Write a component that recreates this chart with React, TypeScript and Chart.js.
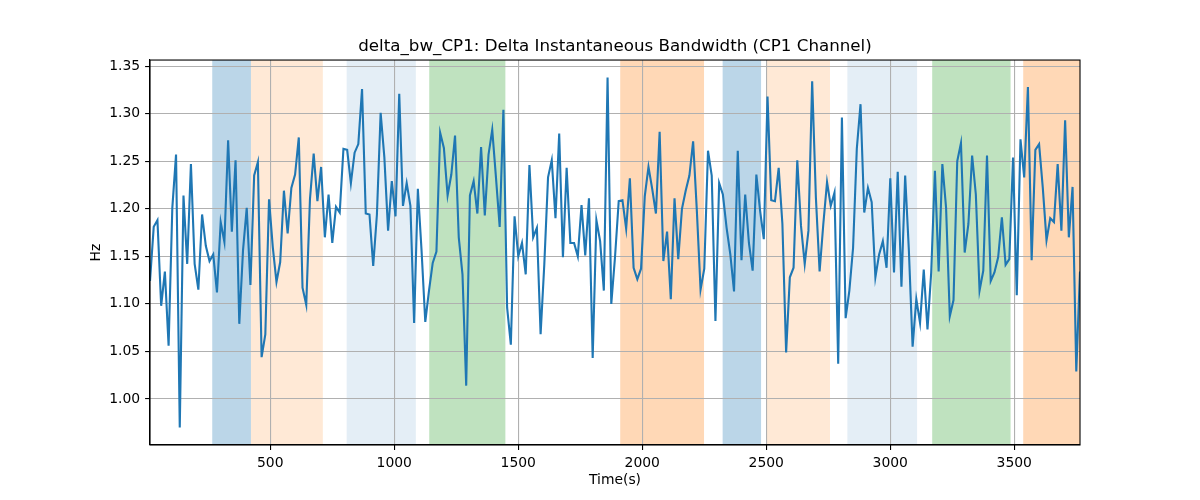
import React, { useEffect, useRef } from "react";
import { Chart, registerables } from "chart.js";

Chart.register(...registerables);
Chart.defaults.font.family = "'DejaVu Sans', sans-serif";
Chart.defaults.color = "#000";

const chartTitle = "delta_bw_CP1: Delta Instantaneous Bandwidth (CP1 Channel)";
const xLabel = "Time(s)";
const yLabel = "Hz";

// regular sampling: first sample time and step, in seconds
const firstTime = 15;
const timeStep = 15;

const deltaBw = [
  1.124, 1.181, 1.188, 1.098, 1.134, 1.056, 1.201, 1.257, 0.970, 1.214,
  1.142, 1.247, 1.142, 1.115, 1.194, 1.161, 1.145, 1.152, 1.112, 1.186,
  1.165, 1.272, 1.176, 1.251, 1.079, 1.156, 1.201, 1.120, 1.235, 1.249,
  1.044, 1.068, 1.210, 1.160, 1.123, 1.144, 1.219, 1.174, 1.222, 1.236,
  1.275, 1.117, 1.099, 1.210, 1.258, 1.208, 1.244, 1.170, 1.215, 1.164,
  1.202, 1.196, 1.263, 1.262, 1.227, 1.259, 1.268, 1.326, 1.195, 1.194,
  1.140, 1.194, 1.301, 1.254, 1.177, 1.229, 1.192, 1.321, 1.203, 1.227,
  1.203, 1.080, 1.221, 1.156, 1.081, 1.114, 1.143, 1.155, 1.280, 1.264,
  1.214, 1.236, 1.277, 1.170,
  1.131, 1.014, 1.214, 1.229, 1.195, 1.265, 1.193, 1.257, 1.283, 1.233,
  1.181, 1.304, 1.096, 1.057, 1.192, 1.150, 1.164, 1.131, 1.246, 1.170,
  1.180, 1.068, 1.142, 1.233, 1.251, 1.190, 1.279, 1.149, 1.243, 1.164,
  1.164, 1.150, 1.204, 1.151, 1.211, 1.043, 1.188, 1.166, 1.114, 1.338,
  1.100, 1.149, 1.208, 1.209, 1.179, 1.232, 1.138, 1.126, 1.137, 1.213,
  1.244, 1.221, 1.195, 1.281, 1.145, 1.176, 1.105, 1.211, 1.147, 1.200,
  1.219, 1.235, 1.271, 1.198, 1.115, 1.137, 1.261, 1.235, 1.082, 1.227,
  1.215, 1.180, 1.152, 1.113, 1.261, 1.146, 1.215, 1.164, 1.135, 1.236,
  1.198,
  1.168, 1.318, 1.209, 1.208, 1.243, 1.184, 1.049, 1.128, 1.138, 1.251,
  1.182, 1.142, 1.177, 1.334, 1.212, 1.134, 1.184, 1.228, 1.203, 1.217,
  1.037, 1.296, 1.085, 1.114, 1.159, 1.263, 1.310, 1.196, 1.222, 1.207,
  1.128, 1.152, 1.166, 1.138, 1.232, 1.133, 1.239, 1.118, 1.235, 1.156,
  1.055, 1.105, 1.080, 1.136, 1.073, 1.133, 1.240, 1.134, 1.247, 1.201,
  1.087, 1.104, 1.250, 1.269, 1.154, 1.184, 1.256, 1.215, 1.114, 1.135,
  1.256, 1.124, 1.133, 1.149, 1.191, 1.141, 1.147, 1.254, 1.109, 1.273,
  1.233, 1.328, 1.146, 1.262, 1.268, 1.222, 1.167, 1.190, 1.186, 1.247,
  1.177, 1.293, 1.170, 1.223, 1.029, 1.134,
];

const xTicks = [500, 1000, 1500, 2000, 2500, 3000, 3500];
const yTicks = [1.0, 1.05, 1.1, 1.15, 1.2, 1.25, 1.3, 1.35];

// shaded time windows
const spanStarts = [266, 422, 808, 1141, 1911, 2324, 2503, 2827, 3169, 3536];
const spanEnds = [422, 712, 1087, 1448, 2249, 2479, 2757, 3108, 3485, 3770];
const spanColors = [
  "rgba(31,119,180,0.3)",
  "rgba(255,127,14,0.17)",
  "rgba(31,119,180,0.12)",
  "rgba(44,160,44,0.3)",
  "rgba(255,127,14,0.3)",
  "rgba(31,119,180,0.3)",
  "rgba(255,127,14,0.17)",
  "rgba(31,119,180,0.12)",
  "rgba(44,160,44,0.3)",
  "rgba(255,127,14,0.3)",
];

const times = deltaBw.map((_, i) => firstTime + i * timeStep);

const spanPlugin = {
  id: "spans",
  beforeDraw(chart: any) {
    const { ctx, chartArea, scales } = chart;
    ctx.save();
    ctx.beginPath();
    ctx.rect(chartArea.left, chartArea.top, chartArea.width, chartArea.height);
    ctx.clip();
    spanStarts.forEach((s, i) => {
      const x0 = scales.x.getPixelForValue(s);
      const x1 = scales.x.getPixelForValue(spanEnds[i]);
      ctx.fillStyle = spanColors[i];
      ctx.fillRect(x0, chartArea.top, x1 - x0, chartArea.height);
    });
    ctx.restore();
  },
  afterDraw(chart: any) {
    const { ctx, chartArea } = chart;
    ctx.save();
    ctx.strokeStyle = "#000";
    ctx.lineWidth = 1.1;
    ctx.strokeRect(chartArea.left, chartArea.top, chartArea.width, chartArea.height);
    ctx.restore();
  },
};

const App: React.FC = () => {
  const canvasRef = useRef<HTMLCanvasElement>(null);

  useEffect(() => {
    if (!canvasRef.current) return;
    const lo = Math.min(...deltaBw);
    const hi = Math.max(...deltaBw);
    const pad = (hi - lo) * 0.05;

    const chart = new Chart(canvasRef.current, {
      type: "line",
      data: {
        datasets: [
          {
            data: times.map((t, i) => ({ x: t, y: deltaBw[i] })),
            borderColor: "#1f77b4",
            borderWidth: 2.1,
            pointRadius: 0,
            tension: 0,
          },
        ],
      },
      options: {
        animation: false,
        responsive: true,
        maintainAspectRatio: false,
        layout: { padding: { left: 0, right: 120, top: 0, bottom: 0 } },
        plugins: {
          legend: { display: false },
          tooltip: { enabled: false },
          title: {
            display: true,
            text: chartTitle,
            fullSize: false,
            font: { size: 16.7, weight: "normal" },
            color: "#000",
            padding: { top: 36.5, bottom: 3.5 },
          },
        },
        scales: {
          x: {
            type: "linear",
            min: times[0],
            max: times[times.length - 1],
            afterBuildTicks: (axis: any) => {
              axis.ticks = xTicks.map((v) => ({ value: v }));
            },
            afterFit: (axis: any) => {
              axis.height = 55;
            },
            ticks: {
              font: { size: 13.9 },
              color: "#000",
              padding: 4.9,
              maxRotation: 0,
              callback: (v: any) => String(v),
            },
            grid: {
              color: "#b0b0b0",
              lineWidth: 1.1,
              tickColor: "#000",
              tickLength: 4.9,
              tickWidth: 1.1,
            },
            border: { display: true, color: "#000", width: 1.1 },
            title: {
              display: true,
              text: xLabel,
              font: { size: 13.9 },
              color: "#000",
              padding: { top: 0, bottom: 10.8 },
            },
          },
          y: {
            type: "linear",
            min: lo - pad,
            max: hi + pad,
            afterBuildTicks: (axis: any) => {
              axis.ticks = yTicks.map((v) => ({ value: v }));
            },
            afterFit: (axis: any) => {
              axis.width = 150;
            },
            ticks: {
              font: { size: 13.9 },
              color: "#000",
              padding: 4.9,
              callback: (v: any) => Number(v).toFixed(2),
            },
            grid: {
              color: "#b0b0b0",
              lineWidth: 1.1,
              tickColor: "#000",
              tickLength: 4.9,
              tickWidth: 1.1,
            },
            border: { display: true, color: "#000", width: 1.1 },
            title: {
              display: true,
              text: yLabel,
              font: { size: 13.9 },
              color: "#000",
              padding: { top: 87.7, bottom: 0 },
            },
          },
        },
      },
      plugins: [spanPlugin],
    });

    return () => {
      chart.destroy();
    };
  }, []);

  return (
    <div
      style={{
        position: "fixed",
        left: 0,
        top: 0,
        width: 1200,
        height: 500,
        background: "#fff",
      }}
    >
      <canvas ref={canvasRef}></canvas>
    </div>
  );
};

export default App;
